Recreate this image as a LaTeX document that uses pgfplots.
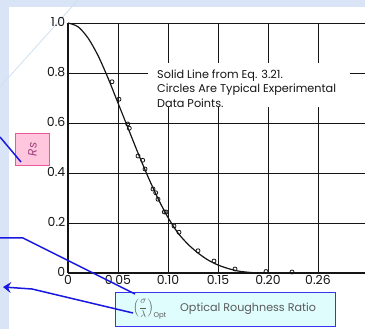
\documentclass[border=0pt]{standalone}
\usepackage{pgfplots}
\pgfplotsset{compat=1.18}
\usepackage{fontspec}
\setmainfont{Poppins}
\usetikzlibrary{arrows.meta}
\definecolor{bgblue}{HTML}{D9E5F7}
\definecolor{diag}{HTML}{D0E0F4}
\definecolor{cyanbox}{HTML}{DFFDFD}
\definecolor{boxblue}{HTML}{3535F0}
\definecolor{linkblue}{HTML}{1818E0}
\definecolor{pinkfill}{HTML}{FFC6DE}
\definecolor{pinkedge}{HTML}{E8589A}
\definecolor{pinktext}{HTML}{A0447C}
\definecolor{ink}{HTML}{151515}
\definecolor{graytext}{HTML}{5A5A5A}
\pgfplotstableread{
x y
0 1.0
0.01 0.985
0.02 0.94
0.03 0.87
0.04 0.78
0.05 0.68
0.06 0.58
0.07 0.48
0.08 0.385
0.09 0.298
0.10 0.222
0.11 0.16
0.12 0.115
0.13 0.08
0.14 0.052
0.15 0.032
0.16 0.018
0.17 0.008
0.18 0.003
0.19 0.0
0.20 0.0
}\curvedata
\pgfplotstableread{
x y
0.044 0.765
0.051 0.695
0.0597 0.596
0.0613 0.579
0.070 0.468
0.0747 0.451
0.077 0.416
0.085 0.336
0.0877 0.321
0.090 0.295
0.0963 0.244
0.098 0.244
0.106 0.188
0.111 0.163
0.130 0.089
0.146 0.048
0.167 0.016
0.198 0.006
0.224 0.004
}\pointdata
\begin{document}
\begin{tikzpicture}
\useasboundingbox (0,0) rectangle (365bp,329bp);
\clip (0,0) rectangle (365bp,329bp);
\begin{scope}[x=1bp,y=1bp]
\fill[bgblue] (0,0) rectangle (365,329);
\fill[white] (9,0) rectangle (365,322);
\draw[diag, line width=0.8bp] (78,329) -- (0,242);
\end{scope}
\begin{axis}[
  at={(68bp,56bp)}, anchor=south west,
  scale only axis, width=300bp, height=250bp,
  xmin=0, xmax=0.3, ymin=0, ymax=1,
  axis x line=bottom, axis y line=left,
  axis line style={-, ink, line width=1.3bp},
  xtick={0,0.05,0.1,0.15,0.2,0.25},
  xticklabels={0,0.05,0.10,0.15,0.20,0.26},
  ytick={0,0.2,0.4,0.6,0.8,1.0},
  yticklabels={0,0.2,0.4,0.6,0.8,1.0},
  major tick length=0pt,
  grid=major,
  major grid style={ink, line width=0.9bp},
  tick label style={font=\fontsize{12.5}{12.5}\selectfont, text=ink},
  xticklabel style={inner sep=1.5bp, yshift=-1bp},
  yticklabel style={inner sep=2.5bp, yshift=1bp},
  clip=false,
]
\fill[white] (axis cs:0.080,0.664) rectangle (axis cs:0.282,0.84);
\node[anchor=north west, inner sep=0pt, align=left, text=ink,
      font=\fontsize{11.3}{15}\selectfont] at (axis cs:0.089,0.815)
  {Solid Line from Eq. 3.21.\\Circles Are Typical Experimental\\Data Points.};
\addplot[ink, line width=1.2bp, smooth, tension=0.5] table[x=x,y=y] {\curvedata};
\addplot[only marks, mark=o, mark size=2bp, ink, mark options={line width=0.8bp}] table[x=x,y=y] {\pointdata};
\end{axis}
\begin{scope}[x=1bp,y=1bp]
\filldraw[fill=pinkfill, draw=pinkedge, line width=0.8bp] (15.7,163.3) rectangle (49.3,195.7);
\node[rotate=90, text=pinktext, font=\fontsize{12}{12}\selectfont\itshape, inner sep=0pt] at (32.5,179.5) {Rs};
\draw[linkblue, line width=1.5bp] (0,192) -- (21,167);
\filldraw[fill=cyanbox, draw=boxblue, line width=0.8bp] (115,3) rectangle (335,37);
\node[text=graytext, font=\fontsize{10}{10}\selectfont, inner sep=0pt] at (150,19.5)
  {$\displaystyle\left(\frac{\sigma}{\lambda}\right)_{\mathrm{Opt}}$};
\node[anchor=west, text=graytext, font=\fontsize{11.2}{11.2}\selectfont, inner sep=0pt] at (180,20) {Optical Roughness Ratio};
\draw[linkblue, line width=1.5bp] (0,91) -- (23,91) -- (135,35);
\draw[linkblue, line width=1.5bp, -{Stealth[length=8bp,width=11bp,inset=3bp]}] (133,16) -- (32,40) -- (3,42);
\end{scope}
\end{tikzpicture}
\end{document}
